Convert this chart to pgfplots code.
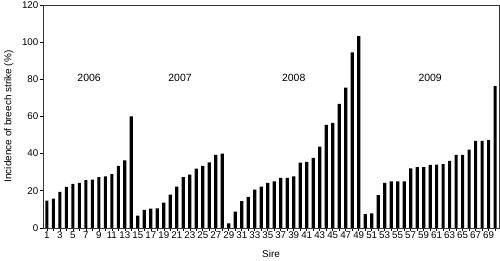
\documentclass[border=0pt]{standalone}
\usepackage{pgfplots}
\pgfplotsset{compat=1.18}
\usepackage{fontspec}
\setmainfont{Liberation Sans}
\begin{document}
\begin{tikzpicture}
\begin{axis}[
  name=ax,
  scale only axis,
  width=456bp, height=223bp,
  xmin=0.4, xmax=70.6, ymin=0, ymax=120,
  xtick={1,...,70},
  xticklabels={1,,3,,5,,7,,9,,11,,13,,15,,17,,19,,21,,23,,25,,27,,29,,31,,33,,35,,37,,39,,41,,43,,45,,47,,49,,51,,53,,55,,57,,59,,61,,63,,65,,67,,69,},
  ytick={0,20,...,120},
  tick align=outside,
  tick pos=left,
  major tick length=3bp,
  axis line style={line width=0.7pt, draw=black!80},
  every tick/.style={line width=0.6pt, black},
  tick label style={font=\fontsize{9.8}{11}\selectfont},
  /pgf/number format/assume math mode=true,
  xticklabel style={inner sep=1pt},
  yticklabel style={inner sep=1.5pt},
  xlabel={Sire}, ylabel={Incidence of breech strike (\%)},
  label style={font=\fontsize{10}{11}\selectfont},
  xlabel style={at={(axis description cs:0.5,0)}, anchor=center, yshift=-26bp},
  ylabel style={at={(axis description cs:0,0.5)}, anchor=south, yshift=26bp},
  clip=false,
]
\addplot[ybar, bar width=3.2bp, fill=black, draw=none, bar shift=0pt] coordinates {
(1,14.7)(2,15.8)(3,19.4)(4,22.1)(5,23.7)(6,24.2)(7,25.8)(8,26.0)(9,27.3)(10,27.8)
(11,29.0)(12,33.4)(13,36.4)(14,60.1)(15,6.6)(16,9.7)(17,10.4)(18,10.6)(19,13.6)(20,17.9)
(21,22.2)(22,27.3)(23,28.7)(24,31.9)(25,33.4)(26,35.3)(27,39.3)(28,40.0)(29,2.5)(30,8.8)
(31,14.4)(32,16.7)(33,20.6)(34,22.2)(35,24.2)(36,25.1)(37,26.9)(38,26.9)(39,27.8)(40,35.2)
(41,35.5)(42,37.7)(43,43.8)(44,55.4)(45,56.5)(46,66.7)(47,75.5)(48,94.5)(49,103.2)(50,7.4)
(51,7.9)(52,17.6)(53,24.2)(54,25.1)(55,25.1)(56,25.1)(57,32.1)(58,32.7)(59,32.7)(60,33.9)
(61,34.1)(62,34.3)(63,36.1)(64,39.3)(65,39.3)(66,42.1)(67,46.8)(68,46.8)(69,47.2)(70,76.3)
};
\node[font=\fontsize{10.5}{12}\selectfont] at (axis cs:7.5,81) {2006};
\node[font=\fontsize{10.5}{12}\selectfont] at (axis cs:21.5,81) {2007};
\node[font=\fontsize{10.5}{12}\selectfont] at (axis cs:39,81) {2008};
\node[font=\fontsize{10.5}{12}\selectfont] at (axis cs:60,81) {2009};
\end{axis}
\path ([shift={(-43bp,-31bp)}]ax.south west) rectangle ([shift={(1bp,4bp)}]ax.north east);
\end{tikzpicture}
\end{document}
